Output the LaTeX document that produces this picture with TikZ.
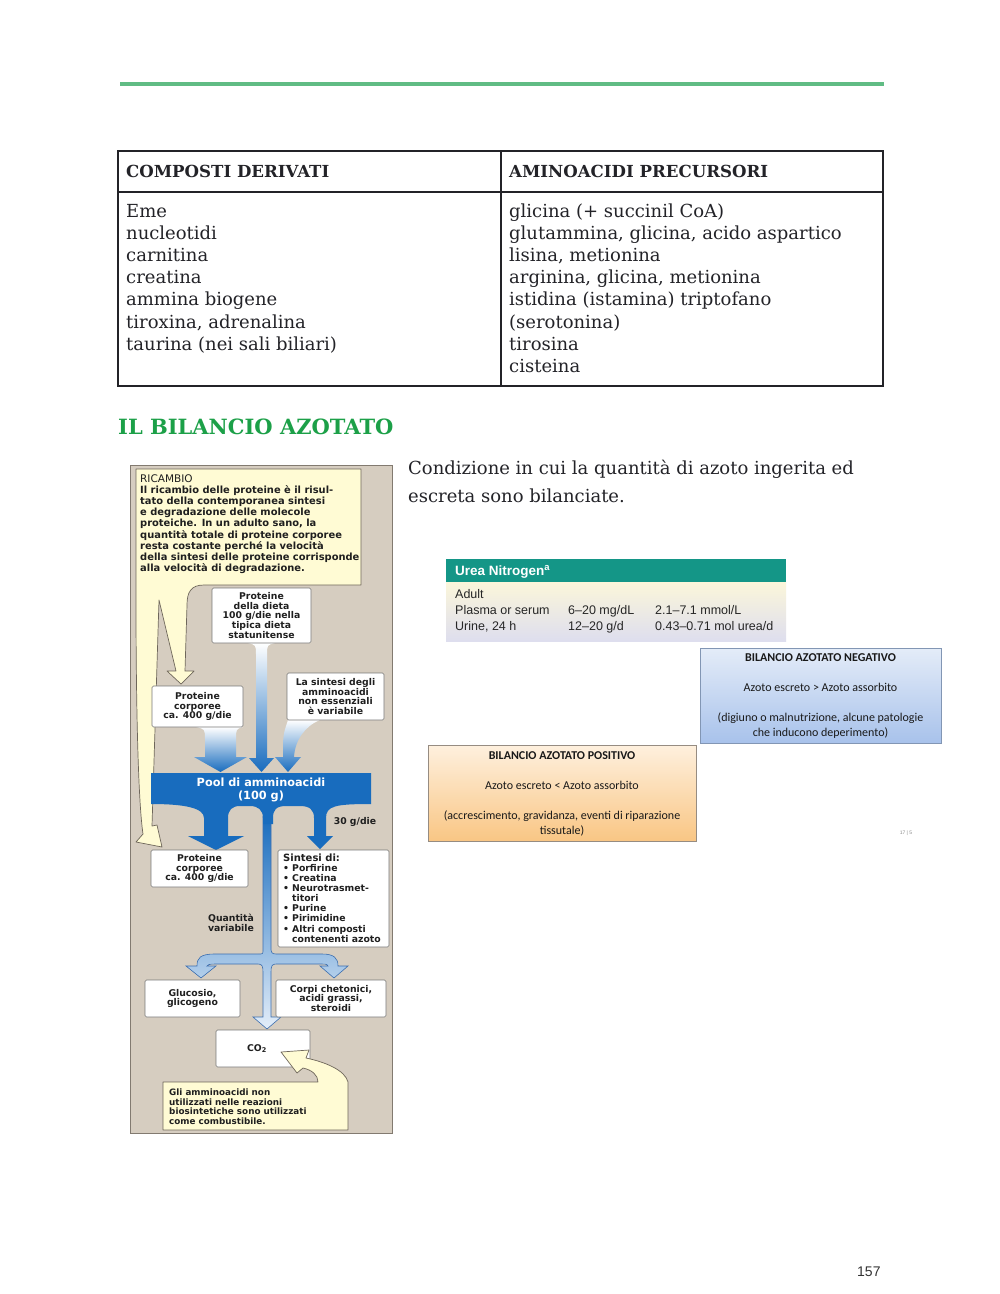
\documentclass[tikz,border=0pt]{standalone}
\usepackage{fontspec}
\setmainfont{DejaVu Serif}
\newfontfamily\fsans{DejaVu Sans}
\newfontfamily\fcal{Carlito}
\newfontfamily\farial{Liberation Sans}
\definecolor{bgtan}{RGB}{214,205,192}
\definecolor{bgborder}{RGB}{130,122,112}
\definecolor{yel}{RGB}{255,251,212}
\definecolor{yelborder}{RGB}{110,102,90}
\definecolor{poolblue}{RGB}{24,108,190}
\definecolor{paleblue}{RGB}{165,198,235}
\definecolor{arrowline}{RGB}{60,110,175}
\definecolor{boxgray}{RGB}{120,120,120}
\definecolor{rulegreen}{RGB}{96,188,132}
\definecolor{headgreen}{RGB}{28,160,72}
\definecolor{ureateal}{RGB}{20,150,135}
\definecolor{ureatop}{RGB}{251,246,218}
\definecolor{ureabot}{RGB}{222,222,238}
\definecolor{negtop}{RGB}{228,236,248}
\definecolor{negbot}{RGB}{168,194,235}
\definecolor{negborder}{RGB}{130,150,180}
\definecolor{postop}{RGB}{254,240,222}
\definecolor{posbot}{RGB}{249,198,132}
\definecolor{posborder}{RGB}{150,140,130}
\definecolor{inkc}{RGB}{35,35,40}
\tikzset{
  tabline/.style={draw=inkc, line width=1.5pt},
  hdr/.style={anchor=base west, inner sep=0pt, text=inkc, font=\bfseries\fontsize{16.6}{18}\selectfont},
  bodytxt/.style={anchor=base west, inner sep=0pt, text=inkc, font=\fontsize{18}{22}\selectfont},
  fbox/.style={draw=boxgray, fill=white, rounded corners=1.5pt, line width=0.6pt, inner sep=0pt},
  ftxt/.style={font=\fsans\bfseries\fontsize{9.3}{9.9}\selectfont, align=center, inner sep=0pt, text=black!88},
  yelshape/.style={fill=yel, draw=yelborder, line width=0.7pt, line join=round},
  ureatxt/.style={anchor=base west, inner sep=0pt, text=black!85, font=\farial\fontsize{12.5}{14}\selectfont},
  caltxt/.style={anchor=base, inner sep=0pt, text=black!90, font=\fcal\fontsize{12}{14}\selectfont},
}
\begin{document}
\begin{tikzpicture}[x=1pt,y=-1pt]
\useasboundingbox (0,0) rectangle (1000,1294);
\fill[white] (0,0) rectangle (1000,1294);

% top rule
\draw[rulegreen, line width=4pt] (120,84) -- (884,84);

% table
\draw[tabline] (118,151) rectangle (883,386);
\draw[tabline] (118,192) -- (883,192);
\draw[tabline] (501,151) -- (501,386);
\node[hdr] (h1) at (126,177.5) {COMPOSTI DERIVATI};
\node[hdr] (h2) at (509,177.5) {AMINOACIDI PRECURSORI};

\node[bodytxt] (l1) at (126,217.0) {Eme};
\node[bodytxt] (l2) at (126,239.2) {nucleotidi};
\node[bodytxt] (l3) at (126,261.4) {carnitina};
\node[bodytxt] (l4) at (126,283.6) {creatina};
\node[bodytxt] (l5) at (126,305.8) {ammina biogene};
\node[bodytxt] (l6) at (126,328.0) {tiroxina, adrenalina};
\node[bodytxt] (l7) at (126,350.2) {taurina (nei sali biliari)};

\node[bodytxt] (r1) at (509,217.0) {glicina (+ succinil CoA)};
\node[bodytxt] (r2) at (509,239.2) {glutammina, glicina, acido aspartico};
\node[bodytxt] (r3) at (509,261.4) {lisina, metionina};
\node[bodytxt] (r4) at (509,283.6) {arginina, glicina, metionina};
\node[bodytxt] (r5) at (509,305.8) {istidina (istamina) triptofano};
\node[bodytxt] (r6) at (509,328.0) {(serotonina)};
\node[bodytxt] (r7) at (509,350.2) {tirosina};
\node[bodytxt] (r8) at (509,372.4) {cisteina};

% heading
\node[anchor=base west, inner sep=0pt, text=headgreen, font=\bfseries\fontsize{21}{24}\selectfont] (head) at (118,434.5) {IL BILANCIO AZOTATO};

% paragraph
\node[bodytxt] (p1) at (408,474) {Condizione in cui la quantità di azoto ingerita ed};
\node[bodytxt] (p2) at (408,502) {escreta sono bilanciate.};

% ================= flowchart =================
\draw[draw=bgborder, fill=bgtan, line width=1pt] (130,465) rectangle (392,1133);

% RICAMBIO callout with two tails
\draw[yelshape] (136,469) -- (361,469) -- (361,585) -- (204,585)
  .. controls (191,585) and (187,592) .. (187,605)
  -- (185,671) -- (194,671) -- (181,684) -- (167,671) -- (176,671)
  -- (159,600) -- (152,826) -- (157,825) -- (162,847) -- (136,842) -- (143,834)
  .. controls (138,800) and (136,700) .. (136,600) -- cycle;
\node[anchor=north west, inner sep=0pt, align=left, text=black!88,
      font=\fsans\bfseries\fontsize{9.9}{11.1}\selectfont] (ricambio) at (140,474.5)
  {{\mdseries\fontsize{10.5}{11.1}\selectfont RICAMBIO}\\
   Il ricambio delle proteine è il risul-\\
   tato della contemporanea sintesi\\
   e degradazione delle molecole\\
   proteiche. In un adulto sano, la\\
   quantità totale di proteine corporee\\
   resta costante perché la velocità\\
   della sintesi delle proteine corrisponde\\
   alla velocità di degradazione.};

% gradient funnels into the pool
\shade[top color=white, bottom color=poolblue]
  (248,643) .. controls (256,645) .. (256,655) -- (256,758) -- (249,758) -- (261.5,772)
  -- (274,758) -- (267,758) -- (267,655) .. controls (267,645) .. (275,643) -- cycle;
\shade[top color=white, bottom color=poolblue]
  (196,727) .. controls (205,729) .. (205,740) -- (205,757) -- (194,757) -- (220.5,772)
  -- (247,757) -- (236,757) -- (236,740) .. controls (236,729) .. (243,727) -- cycle;
\shade[top color=white, bottom color=poolblue]
  (288,720) .. controls (283,735) .. (283,757) -- (275,757) -- (288,772) -- (301,757)
  -- (294,757) .. controls (295,740) and (305,726) .. (320,720) -- cycle;

\node[fbox, ftxt, minimum width=99pt, minimum height=55pt] (dieta) at (261.5,615.5)
  {Proteine\\della dieta\\100 g/die nella\\tipica dieta\\statunitense};
\node[fbox, ftxt, minimum width=91pt, minimum height=41pt] (corp1) at (197.5,706.5)
  {Proteine\\corporee\\ca. 400 g/die};
\node[fbox, ftxt, minimum width=97pt, minimum height=47pt] (nonese) at (335.5,696.5)
  {La sintesi degli\\amminoacidi\\non essenziali\\è variabile};

% central stem and branches
\shade[top color=poolblue, middle color=paleblue, bottom color=white!70!paleblue, draw=arrowline, line width=0.6pt]
  (263,816) -- (263,950) .. controls (263,954) .. (258,954) -- (215,954)
  .. controls (200,954) and (197,958) .. (197,966) -- (186,966) -- (201,978) -- (216,966) -- (207,966)
  .. controls (207,965) and (209,964) .. (215,964) -- (258,964)
  .. controls (262,964) and (263,966) .. (263,972) -- (263,1017) -- (253,1017) -- (267,1029)
  -- (281,1017) -- (271,1017) -- (271,972) .. controls (271,966) and (272,964) .. (276,964)
  -- (322,964) .. controls (327,964) and (328,965) .. (328,966) -- (320,966) -- (334,978)
  -- (348,966) -- (338,966) .. controls (338,958) and (334,954) .. (322,954) -- (276,954)
  .. controls (272,954) and (271,952) .. (271,950) -- (271,816) -- cycle;

% pool
\fill[poolblue] (151,773) -- (371,773) -- (371,804)
  .. controls (335,804) and (326,806) .. (326,818) -- (326,836) -- (333,836) -- (320,849)
  -- (307,836) -- (314,836) -- (314,818) .. controls (314,810) and (310,806) .. (300,806)
  -- (286,806) .. controls (276,806) and (273,810) .. (273,818) -- (273,824) -- (263,824)
  -- (263,818) .. controls (263,810) and (258,806) .. (250,806) -- (240,806)
  .. controls (232,806) and (228,810) .. (228,818) -- (228,836) -- (244,836) -- (216,850)
  -- (188,836) -- (204,836) -- (204,818) .. controls (204,808) and (185,804) .. (151,804) -- cycle;
\node[align=center, inner sep=0pt, text=white, font=\fsans\bfseries\fontsize{11.3}{13}\selectfont] (pool) at (261,789.5)
  {Pool di amminoacidi\\(100 g)};
\node[ftxt] (trenta) at (355,822) {30 g/die};

\node[fbox, ftxt, minimum width=97pt, minimum height=37pt] (corp2) at (199.5,868.5)
  {Proteine\\corporee\\ca. 400 g/die};
\node[fbox, minimum width=111pt, minimum height=97pt] (sint) at (333.5,898.5) {};
\node[anchor=north west, inner sep=0pt, align=left, text=black!88,
      font=\fsans\bfseries\fontsize{9.3}{10.1}\selectfont] (sinttxt) at (283,853.5)
  {{\fontsize{10}{10.1}\selectfont Sintesi di:}\\
   \makebox[9pt][l]{•}Porfirine\\
   \makebox[9pt][l]{•}Creatina\\
   \makebox[9pt][l]{•}Neurotrasmet-\\
   \hspace*{9pt}titori\\
   \makebox[9pt][l]{•}Purine\\
   \makebox[9pt][l]{•}Pirimidine\\
   \makebox[9pt][l]{•}Altri composti\\
   \hspace*{9pt}contenenti azoto};
\node[ftxt] (qvar) at (231,923) {Quantità\\variabile};

\node[fbox, ftxt, minimum width=95pt, minimum height=37pt] (gluc) at (192.5,998.5)
  {Glucosio,\\glicogeno};
\node[fbox, ftxt, minimum width=110pt, minimum height=37pt] (corpi) at (331,998.5)
  {Corpi chetonici,\\acidi grassi,\\steroidi};
\node[fbox, ftxt, minimum width=94pt, minimum height=37pt] (co2) at (263,1048.5)
  {\hspace*{-12pt}CO\textsubscript{2}};

% bottom callout
\draw[yelshape] (163,1082) -- (318,1082) .. controls (318,1075) and (312,1070) .. (303,1068)
  -- (297,1073) -- (281,1052) -- (309,1050) -- (306,1058)
  .. controls (325,1062) and (345,1070) .. (348,1082) -- (348,1130) -- (163,1130) -- cycle;
\node[anchor=north west, inner sep=0pt, align=left, text=black!88,
      font=\fsans\bfseries\fontsize{8.8}{9.7}\selectfont] (combust) at (169,1088.5)
  {Gli amminoacidi non\\utilizzati nelle reazioni\\biosintetiche sono utilizzati\\come combustibile.};

% ================= Urea nitrogen table =================
\node[draw=none, fill=ureateal, minimum width=340pt, minimum height=23pt, inner sep=0pt] (ureah) at (616,570.5) {};
\node[draw=none, top color=ureatop, bottom color=ureabot, minimum width=340pt, minimum height=59pt, inner sep=0pt] (ureab) at (616,611.5) {};
\node[anchor=base west, inner sep=0pt, text=white, font=\farial\bfseries\fontsize{13.5}{14}\selectfont] (ureat) at (455,575.5)
  {Urea Nitrogen\textsuperscript{a}};
\node[ureatxt] (u1) at (455,598) {Adult};
\node[ureatxt] (u2) at (455,614) {Plasma or serum};
\node[ureatxt] (u3) at (455,630) {Urine, 24 h};
\node[ureatxt] (u4) at (568,614) {6–20 mg/dL};
\node[ureatxt] (u5) at (568,630) {12–20 g/d};
\node[ureatxt] (u6) at (655,614) {2.1–7.1 mmol/L};
\node[ureatxt] (u7) at (655,630) {0.43–0.71 mol urea/d};

% ================= bilancio boxes =================
\node[draw=negborder, line width=0.8pt, top color=negtop, bottom color=negbot, minimum width=241pt, minimum height=95pt, inner sep=0pt] (neg) at (820.5,695.5) {};
\node[caltxt, font=\fcal\bfseries\fontsize{12}{14}\selectfont] (n1) at (820.5,661) {BILANCIO AZOTATO NEGATIVO};
\node[caltxt] (n2) at (820.5,691) {Azoto escreto > Azoto assorbito};
\node[caltxt] (n3) at (820.5,721) {(digiuno o malnutrizione, alcune patologie};
\node[caltxt] (n4) at (820.5,736) {che inducono deperimento)};

\node[draw=posborder, line width=0.8pt, top color=postop, bottom color=posbot, minimum width=268pt, minimum height=96pt, inner sep=0pt] (pos) at (562,793) {};
\node[caltxt, font=\fcal\bfseries\fontsize{12}{14}\selectfont] (q1) at (562,759) {BILANCIO AZOTATO POSITIVO};
\node[caltxt] (q2) at (562,789) {Azoto escreto < Azoto assorbito};
\node[caltxt] (q3) at (562,819) {(accrescimento, gravidanza, eventi di riparazione};
\node[caltxt] (q4) at (562,834) {tissutale)};

\node[inner sep=0pt, text=black!45, font=\farial\fontsize{5}{6}\selectfont] (slide) at (906,833) {17 | 5};

% page number
\node[anchor=base west, inner sep=0pt, text=black!80, font=\farial\fontsize{14}{16}\selectfont] (pagenum) at (857,1276) {157};
\end{tikzpicture}
\end{document}
